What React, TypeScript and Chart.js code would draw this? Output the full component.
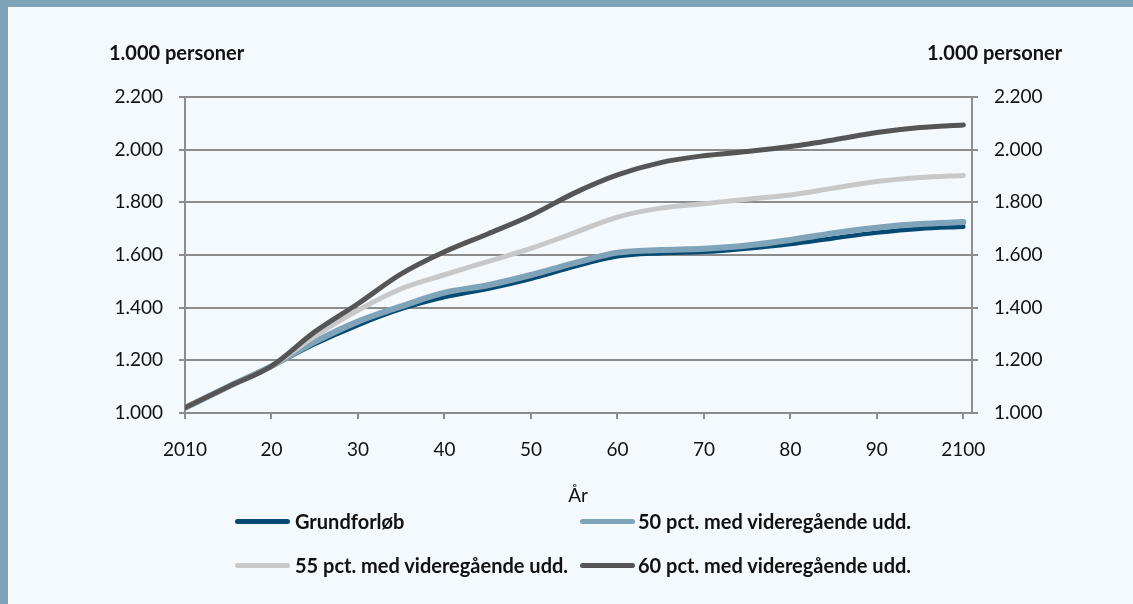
import React, { useEffect, useRef } from 'react';
import { Chart, registerables } from 'chart.js';

Chart.register(...registerables);

// ---- data ----
const years = [2010, 2015, 2020, 2025, 2030, 2035, 2040, 2045, 2050, 2055, 2060, 2065, 2070, 2075, 2080, 2085, 2090, 2095, 2100];
const grundforloeb = [1020, 1100, 1178, 1262, 1334, 1395, 1440, 1472, 1510, 1556, 1595, 1607, 1612, 1625, 1642, 1664, 1685, 1700, 1707];
const pct50 = [1020, 1100, 1178, 1270, 1347, 1405, 1457, 1485, 1524, 1569, 1609, 1619, 1624, 1636, 1657, 1683, 1704, 1718, 1725];
const pct55 = [1020, 1100, 1178, 1292, 1390, 1472, 1525, 1575, 1625, 1684, 1744, 1778, 1795, 1812, 1828, 1854, 1879, 1894, 1902];
const pct60 = [1020, 1100, 1178, 1308, 1415, 1528, 1612, 1680, 1750, 1835, 1904, 1951, 1977, 1993, 2012, 2037, 2065, 2084, 2094];

const seriesNames = ['Grundforløb', '50 pct. med videregående udd.', '55 pct. med videregående udd.', '60 pct. med videregående udd.'];
const seriesValues = [grundforloeb, pct50, pct55, pct60];
const seriesColors = ['#054a73', '#7fa3b8', '#c8c8c8', '#555555'];
const seriesWidths = [4.5, 6, 5, 5];

const xTicks = [2010, 2020, 2030, 2040, 2050, 2060, 2070, 2080, 2090, 2100];
const xTickLabels = ['2010', '20', '30', '40', '50', '60', '70', '80', '90', '2100'];
const yMin = 1000;
const yMax = 2200;
const yStep = 200;
const yUnit = '1.000 personer';
const xTitle = 'År';

const fmt = (v: number) => String(v).replace(/\B(?=(\d{3})+(?!\d))/g, '.');

const AXIS = '#8c8c8c';
const TICKFONT = { family: 'Lato', size: 19 };

export default function App() {
  const ref = useRef<HTMLCanvasElement | null>(null);

  useEffect(() => {
    if (!ref.current) return;
    const chart = new Chart(ref.current, {
      type: 'line',
      data: {
        datasets: seriesNames.map((name, i) => ({
          label: name,
          data: years.map((yr, j) => ({ x: yr, y: seriesValues[i][j] })),
          borderColor: seriesColors[i],
          backgroundColor: seriesColors[i],
          borderWidth: seriesWidths[i],
          pointRadius: 0,
          cubicInterpolationMode: 'monotone',
          borderCapStyle: 'round',
          borderJoinStyle: 'round',
          fill: false,
          order: seriesNames.length - 1 - i,
          yAxisID: 'y',
        })),
      },
      options: {
        animation: false,
        responsive: false,
        maintainAspectRatio: false,
        layout: { padding: { top: 97, left: 0, right: 0, bottom: 0 } },
        plugins: { legend: { display: false }, tooltip: { enabled: false } },
        scales: {
          x: {
            type: 'linear',
            min: 2010,
            max: 2101,
            afterBuildTicks: (s: any) => {
              s.ticks = xTicks.map((v) => ({ value: v }));
            },
            afterFit: (s: any) => {
              s.height = 191;
            },
            ticks: {
              callback: (v: any) => xTickLabels[xTicks.indexOf(Number(v))] ?? '',
              font: TICKFONT,
              color: '#111',
              padding: 19,
              maxRotation: 0,
              autoSkip: false,
            },
            grid: { drawOnChartArea: false, tickLength: 6, color: AXIS, lineWidth: 2 },
            border: { color: AXIS, width: 2 },
          },
          y: {
            position: 'left',
            min: yMin,
            max: yMax,
            afterFit: (s: any) => {
              s.width = 185;
            },
            ticks: { stepSize: yStep, callback: (v: any) => fmt(Number(v)), font: TICKFONT, color: '#111', padding: 16 },
            grid: { color: AXIS, lineWidth: 2, tickLength: 6 },
            border: { color: AXIS, width: 2 },
          },
          y2: {
            position: 'right',
            min: yMin,
            max: yMax,
            afterFit: (s: any) => {
              s.width = 161;
            },
            ticks: { stepSize: yStep, callback: (v: any) => fmt(Number(v)), font: TICKFONT, color: '#111', padding: 16 },
            grid: { drawOnChartArea: false, color: AXIS, lineWidth: 2, tickLength: 6 },
            border: { color: AXIS, width: 2 },
          },
        },
      },
    } as any);
    return () => chart.destroy();
  }, []);

  const text = (extra: React.CSSProperties): React.CSSProperties => ({
    position: 'absolute',
    fontFamily: 'Lato',
    color: '#111',
    whiteSpace: 'nowrap',
    lineHeight: '24px',
    ...extra,
  });

  const legendPos = [
    { lx: 235, tx: 295, y: 521 },
    { lx: 580, tx: 638, y: 521 },
    { lx: 235, tx: 295, y: 565 },
    { lx: 580, tx: 638, y: 565 },
  ];

  return (
    <div style={{ position: 'fixed', left: 0, top: 0, width: 1133, height: 604, background: '#7fa3b8', overflow: 'hidden' }}>
      <div style={{ position: 'absolute', left: 8, top: 7, right: 0, bottom: 0, background: '#f4f9fd' }} />
      <canvas ref={ref} width={1133} height={604} style={{ position: 'absolute', left: 0, top: 0, width: 1133, height: 604 }} />
      <div style={text({ left: 109, top: 40, fontSize: 20, fontWeight: 700 })}>{yUnit}</div>
      <div style={text({ left: 927, top: 40, fontSize: 20, fontWeight: 700 })}>{yUnit}</div>
      <div style={text({ left: 578, top: 483, fontSize: 19, transform: 'translateX(-50%)' })}>{xTitle}</div>
      {seriesNames.map((name, i) => (
        <React.Fragment key={name}>
          <div
            style={{
              position: 'absolute',
              left: legendPos[i].lx,
              top: legendPos[i].y - 2.5,
              width: 55,
              height: 5,
              borderRadius: 3,
              background: seriesColors[i],
            }}
          />
          <div style={text({ left: legendPos[i].tx, top: legendPos[i].y - 12, fontSize: 20, fontWeight: 700 })}>{name}</div>
        </React.Fragment>
      ))}
    </div>
  );
}
